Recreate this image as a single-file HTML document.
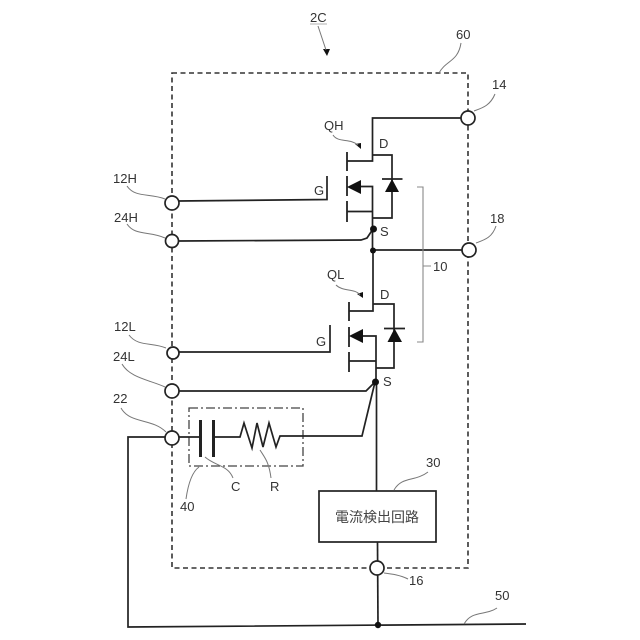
<!DOCTYPE html>
<html>
<head>
<meta charset="utf-8">
<style>
html,body{margin:0;padding:0;background:#fff}
svg{display:block}
text{font-family:"Liberation Sans","DejaVu Sans",sans-serif;font-size:13px;fill:#333}
</style>
</head>
<body>
<svg width="640" height="640" viewBox="0 0 640 640" xmlns="http://www.w3.org/2000/svg">
<!-- dashed enclosure -->
<rect x="172" y="73" width="296" height="495" fill="none" stroke="#333" stroke-width="1.6" stroke-dasharray="5 3.5"/>
<!-- dash-dot box -->
<rect x="189" y="408" width="114" height="58" fill="none" stroke="#444" stroke-width="1.3" stroke-dasharray="9 3 2 3"/>

<g fill="none" stroke="#222" stroke-width="1.7">
<!-- QH -->
<path d="M461 118H372.500V161H347"/>
<path d="M372.500 155H392V218H372.500"/>
<path d="M382 179H402.500"/>
<path d="M347 152V171M347 176V196M347 201V222" stroke-width="1.8"/>
<path d="M361 186.500H372.500V250M347 211.500H372.500"/>
<path d="M179 201L327 199.500V176"/>
<path d="M179 241L361 240L367 238L373 229"/>
<path d="M373 250H462"/>
<!-- QL -->
<path d="M373 250V311H349"/>
<path d="M373 304H394V368H376"/>
<path d="M384 328.500H405"/>
<path d="M349 302V321M349 327V347M349 352V372" stroke-width="1.8"/>
<path d="M363 336H376V382M349 361H376"/>
<path d="M179 352H330V325"/>
<path d="M179 391H366L375 382"/>
<!-- lower wiring -->
<path d="M376.500 382V491"/>
<path d="M375 382L362 436H280L276 447L269 423L263 447L257 423L252 448L244 423L240 437H213"/>
<path d="M200 437H179"/>
<path d="M165 437H128V627L526 624"/>
<path d="M377.500 542L378 625"/>
<!-- box -->
<rect x="319" y="491" width="117" height="51" fill="#fff"/>
</g>
<!-- capacitor -->
<path d="M200.500 420V457M213.500 420V457" stroke="#222" stroke-width="3" fill="none"/>

<!-- filled parts -->
<g fill="#111" stroke="none">
<path d="M392 179L385 192H399Z"/>
<path d="M347 187L361 180V194Z"/>
<path d="M394.500 328.500L387.500 342H402Z"/>
<path d="M349 336L363 329V343Z"/>
<circle cx="373.500" cy="229" r="3.500"/>
<circle cx="373" cy="250.500" r="3"/>
<circle cx="375.500" cy="382" r="3.500"/>
<circle cx="378" cy="625" r="3.200"/>
<path d="M323 49L330 49L327 56Z"/>
<path d="M355 144L361 143L361 149Z"/>
<path d="M357 294L363 292L363 298Z"/>
</g>

<!-- terminals -->
<g fill="#fff" stroke="#222" stroke-width="1.7">
<circle cx="468" cy="118" r="7"/>
<circle cx="469" cy="250" r="7"/>
<circle cx="172" cy="203" r="7"/>
<circle cx="172" cy="241" r="6.500"/>
<circle cx="173" cy="353" r="6"/>
<circle cx="172" cy="391" r="7"/>
<circle cx="172" cy="438" r="7"/>
<circle cx="377" cy="568" r="7"/>
</g>

<!-- bracket 10 -->
<path d="M417 187H423V342H417M423 266H431" fill="none" stroke="#888" stroke-width="1.100"/>

<!-- leader lines -->
<g fill="none" stroke="#777" stroke-width="1">
<path d="M318 26L326 50"/>
<path d="M439 73C446 60 458 62 461 43"/>
<path d="M474 111C482 108 490 106 495 94"/>
<path d="M476 243C484 240 492 238 496 226"/>
<path d="M333 135C338 143 350 138 358 145"/>
<path d="M336 285C343 292 355 288 360 295"/>
<path d="M127 186C135 198 150 193 165 199"/>
<path d="M127 224C135 236 150 231 165 238"/>
<path d="M129 335C138 347 152 342 166 348"/>
<path d="M122 364C130 378 150 380 165 387"/>
<path d="M121 408C130 424 152 418 166 432"/>
<path d="M205 457C215 466 228 465 233 478"/>
<path d="M260 450C265 458 269 462 271 478"/>
<path d="M199 467C192 472 188 485 186 499"/>
<path d="M394 490C402 476 415 482 428 472"/>
<path d="M384 573C392 574 400 575 408 579"/>
<path d="M464 624C472 610 485 616 497 608"/>
</g>

<!-- labels -->
<text x="310" y="22">2C</text>
<path d="M310 24H327" stroke="#999" stroke-width="0.800"/>
<text x="456" y="39">60</text>
<text x="492" y="89">14</text>
<text x="490" y="223">18</text>
<text x="324" y="130">QH</text>
<text x="379" y="148">D</text>
<text x="314" y="195">G</text>
<text x="380" y="236">S</text>
<text x="433" y="271">10</text>
<text x="327" y="279">QL</text>
<text x="380" y="299">D</text>
<text x="316" y="346">G</text>
<text x="383" y="386">S</text>
<text x="113" y="183">12H</text>
<text x="114" y="222">24H</text>
<text x="114" y="331">12L</text>
<text x="113" y="361">24L</text>
<text x="113" y="403">22</text>
<text x="180" y="511">40</text>
<text x="231" y="491">C</text>
<text x="270" y="491">R</text>
<text x="426" y="467">30</text>
<text x="409" y="585">16</text>
<text x="495" y="600">50</text>
<text x="335" y="522" style="font-family:'Noto Sans CJK JP','Liberation Sans',sans-serif;font-size:14px;fill:#444">電流検出回路</text>
</svg>
</body>
</html>
